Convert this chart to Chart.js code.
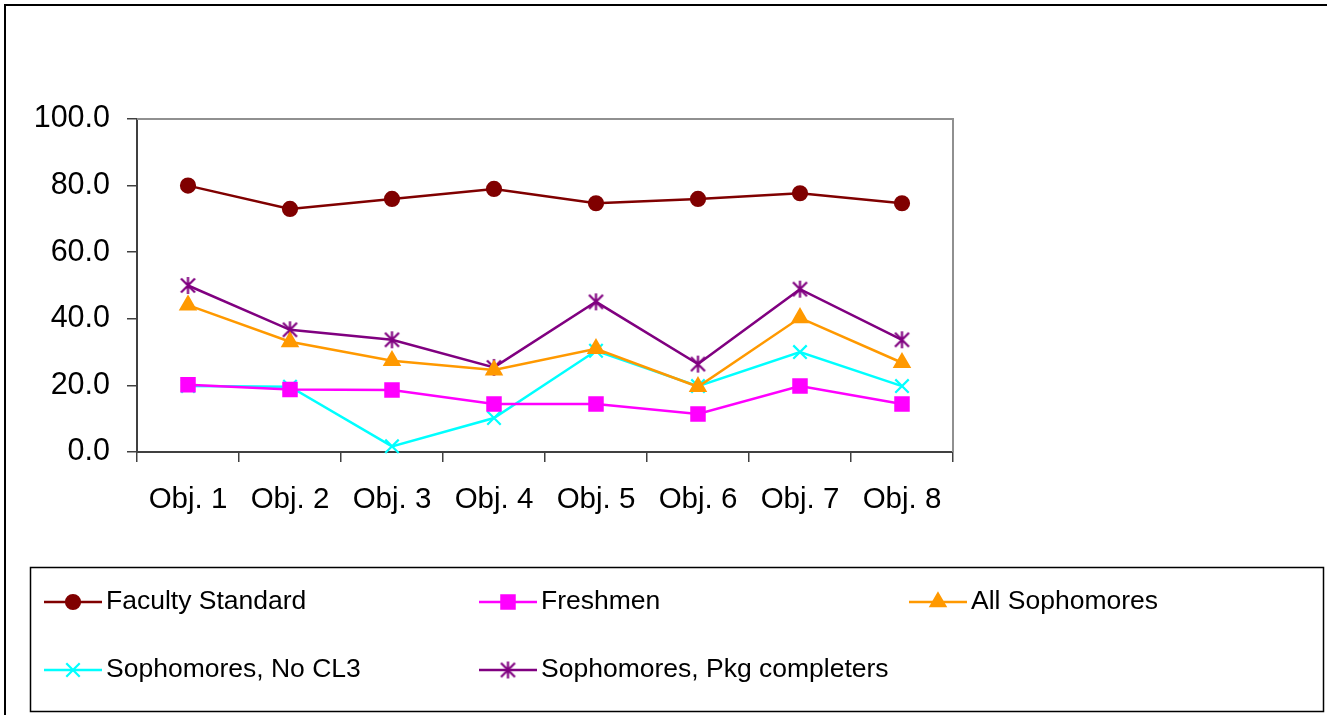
<!DOCTYPE html>
<html>
<head>
<meta charset="utf-8">
<script src="https://cdn.jsdelivr.net/npm/chart.js@4/dist/chart.umd.min.js"></script>
<style>
  html, body { margin: 0; padding: 0; background: #fff; }
  canvas { display: block; }
</style>
</head>
<body>
<canvas id="objChart" width="1327" height="715"></canvas>
<script>
// 目標別スコアの折れ線(5系列・凡例は下の枠内に3列)。
var categories = ["Obj. 1", "Obj. 2", "Obj. 3", "Obj. 4", "Obj. 5", "Obj. 6", "Obj. 7", "Obj. 8"];
var seriesNames = ["Faculty Standard", "Freshmen", "All Sophomores", "Sophomores, No CL3", "Sophomores, Pkg completers"];
var facultyStandard = [80.0, 73.0, 76.0, 79.0, 74.7, 76.0, 77.7, 74.7];
var freshmen = [20.2, 18.8, 18.6, 14.4, 14.4, 11.4, 19.8, 14.4];
var allSophomores = [44.1, 33.1, 27.4, 24.6, 31.0, 19.6, 40.3, 26.8];
var sophNoCL3 = [19.8, 19.6, 1.7, 10.2, 30.4, 19.8, 30.0, 19.8];
var sophPkg = [50.0, 36.7, 33.7, 25.4, 45.1, 26.4, 48.9, 33.7];
var yTicks = [0, 20, 40, 60, 80, 100];

(function () {
    "use strict";
    var FONT = "'Liberation Sans', Arial, sans-serif";

    // Excel風のアスタリスク(X+縦線)マーカー
    function starMarker(color) {
        var c = document.createElement("canvas");
        c.width = 19; c.height = 19;
        var g = c.getContext("2d");
        g.strokeStyle = color; g.lineWidth = 2.2;
        g.beginPath();
        g.moveTo(2.5, 2.5); g.lineTo(16.5, 16.5);
        g.moveTo(16.5, 2.5); g.lineTo(2.5, 16.5);
        g.moveTo(9.5, 1); g.lineTo(9.5, 18);
        g.stroke();
        return c;
    }

    var mk = function (label, data, color, style, r) {
        return { label: label, data: data, borderColor: color, backgroundColor: color,
                 borderWidth: 2.5, pointStyle: style, pointRadius: r, pointHoverRadius: r,
                 pointBorderWidth: 2.2, tension: 0, clip: false };
    };

    var datasets = [
        mk(seriesNames[0], facultyStandard, "#800000", "circle", 7),
        mk(seriesNames[1], freshmen, "#ff00ff", "rect", 9.4),
        mk(seriesNames[2], allSophomores, "#ff9900", "triangle", 8.5),
        mk(seriesNames[3], sophNoCL3, "#00ffff", "crossRot", 9.5),
        mk(seriesNames[4], sophPkg, "#800080", starMarker("#800080"), 9),
    ];

    // 外枠・プロット枠(上と右)・凡例ボックス
    var framePlugin = {
        id: "frame",
        beforeDraw: function (c) {
            var ctx = c.ctx;
            ctx.save();
            ctx.fillStyle = "#fff";
            ctx.fillRect(0, 0, c.width, c.height);
            ctx.fillStyle = "#000";
            ctx.fillRect(4, 4, 2, c.height);
            ctx.fillRect(4, 4, c.width, 2);
            ctx.restore();
        },
        beforeDatasetsDraw: function (c) {
            var a = c.chartArea, ctx = c.ctx;
            ctx.save();
            ctx.strokeStyle = "#909090";
            ctx.lineWidth = 2;
            ctx.beginPath();
            ctx.moveTo(a.left, a.top); ctx.lineTo(a.right, a.top); ctx.lineTo(a.right, a.bottom);
            ctx.stroke();
            ctx.restore();
        },
        afterDraw: function (c) {
            var ctx = c.ctx;
            ctx.save();
            ctx.strokeStyle = "#000";
            ctx.lineWidth = 1.5;
            ctx.strokeRect(30.5, 567.5, 1293, 144);
            var colX = [44, 479, 909], rowY = [602, 670];
            ctx.font = "26.5px " + FONT;
            ctx.textBaseline = "middle";
            c.data.datasets.forEach(function (ds, i) {
                var x0 = colX[i % 3], y = rowY[Math.floor(i / 3)], x1 = x0 + 58;
                ctx.strokeStyle = ds.borderColor; ctx.lineWidth = 2.5;
                ctx.beginPath(); ctx.moveTo(x0, y); ctx.lineTo(x1, y); ctx.stroke();
                if (Chart.helpers && Chart.helpers.drawPoint) {
                    ctx.fillStyle = ds.backgroundColor; ctx.lineWidth = 2.2;
                    Chart.helpers.drawPoint(ctx, { pointStyle: ds.pointStyle, radius: ds.pointRadius,
                        rotation: 0, borderWidth: 2.2 }, (x0 + x1) / 2, y);
                }
                ctx.fillStyle = "#000";
                ctx.fillText(ds.label, x1 + 4, y);
            });
            ctx.restore();
        },
    };

    new Chart(document.getElementById("objChart").getContext("2d"), {
        type: "line",
        data: { labels: categories, datasets: datasets },
        plugins: [framePlugin],
        options: {
            responsive: false, animation: false,
            layout: { padding: { left: 0, top: 119, right: 374, bottom: 183 } },
            scales: {
                x: {
                    offset: true,
                    afterFit: function (s) { s.height = 80; },
                    grid: { offset: true, drawOnChartArea: false, tickLength: 10, color: "#404040", lineWidth: 1.5 },
                    border: { color: "#404040", width: 2 },
                    ticks: { color: "#000", padding: 20, font: { family: FONT, size: 29.5 }, maxRotation: 0 },
                },
                y: {
                    min: 0, max: 100,
                    afterFit: function (s) { s.width = 137; },
                    afterBuildTicks: function (s) { s.ticks = yTicks.map(function (v) { return { value: v }; }); },
                    grid: { drawOnChartArea: false, tickLength: 10, color: "#404040", lineWidth: 1.5 },
                    border: { color: "#404040", width: 2 },
                    ticks: { color: "#000", padding: 17, font: { family: FONT, size: 30.5 },
                             callback: function (v) { return Number(v).toFixed(1); } },
                },
            },
            plugins: { legend: { display: false }, tooltip: { enabled: false } },
        },
    });
})();
</script>
</body>
</html>
